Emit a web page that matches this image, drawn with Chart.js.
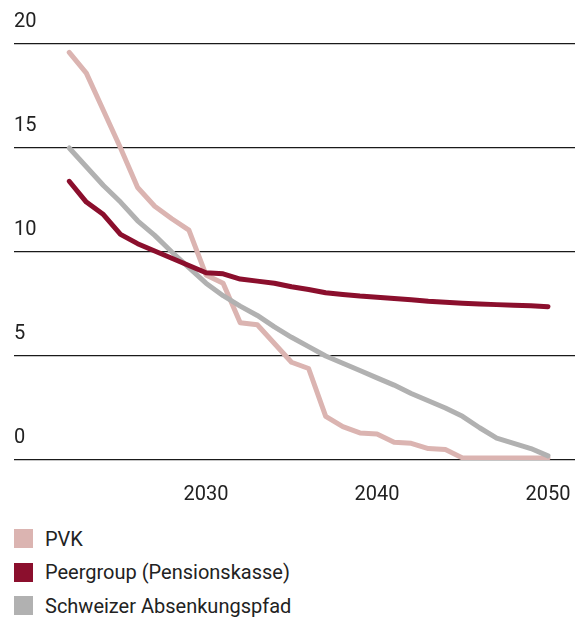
<!DOCTYPE html>
<html>
<head>
<meta charset="utf-8">
<script src="https://cdn.jsdelivr.net/npm/chart.js@4"></script>
<style>
  html, body { margin: 0; padding: 0; background: #fff; }
  #wrap { position: relative; width: 584px; height: 620px; }
  #chart { position: absolute; left: 0; top: 0; }
  #legend { position: absolute; left: 14px; top: 522px; font-family: Roboto, sans-serif; font-size: 20px; color: #222; }
  .item { display: flex; align-items: center; height: 33.5px; }
  .box { width: 19px; height: 19px; margin-right: 12px; }
</style>
</head>
<body>
<div id="wrap">
  <canvas id="chart" width="584" height="520"></canvas>
  <div id="legend"></div>
</div>
<script>
// data
var years = [2022, 2023, 2024, 2025, 2026, 2027, 2028, 2029, 2030, 2031, 2032, 2033, 2034, 2035, 2036,
             2037, 2038, 2039, 2040, 2041, 2042, 2043, 2044, 2045, 2046, 2047, 2048, 2049, 2050];
var pvk = [19.6, 18.6, 16.8, 15.0, 13.1, 12.2, 11.6, 11.05, 8.9, 8.5, 6.6, 6.5, 5.6, 4.7, 4.4,
           2.1, 1.6, 1.3, 1.25, 0.85, 0.8, 0.55, 0.5, 0.1, 0.1, 0.1, 0.1, 0.1, 0.1];
var peergroup = [13.4, 12.4, 11.8, 10.85, 10.4, 10.05, 9.7, 9.35, 9.0, 8.95, 8.7, 8.6, 8.5, 8.33, 8.2,
                 8.04, 7.96, 7.88, 7.82, 7.76, 7.7, 7.63, 7.58, 7.54, 7.5, 7.47, 7.44, 7.41, 7.37];
var absenkungspfad = [15.0, 14.1, 13.2, 12.4, 11.5, 10.8, 10.0, 9.25, 8.5, 7.9, 7.4, 6.95, 6.4, 5.9, 5.45,
                      5.0, 4.65, 4.3, 3.95, 3.6, 3.2, 2.85, 2.5, 2.1, 1.55, 1.05, 0.8, 0.55, 0.2];
var xTicks = [2030, 2040, 2050];
var yTicks = [0, 5, 10, 15, 20];

function points(values) {
    return years.map(function (y, i) { return { x: y, y: values[i] }; });
}

function line(label, values, color, order) {
    return {
        label: label,
        data: points(values),
        borderColor: color,
        backgroundColor: color,
        borderWidth: 5,
        pointRadius: 0,
        tension: 0,
        borderCapStyle: 'round',
        borderJoinStyle: 'round',
        order: order
    };
}

var font = { family: 'Roboto, sans-serif', size: 20 };

var ctx = document.getElementById('chart');
var myChart = new Chart(ctx, {
    type: 'line',
    data: {
        datasets: [
            line('PVK', pvk, '#dbb4b1', 3),
            line('Peergroup (Pensionskasse)', peergroup, '#8b0f2d', 1),
            line('Schweizer Absenkungspfad', absenkungspfad, '#b1b1b1', 2)
        ]
    },
    options: {
        responsive: false,
        animation: false,
        layout: { padding: { left: 14, right: 9, top: 44, bottom: 0 } },
        plugins: { legend: { display: false }, tooltip: { enabled: false } },
        scales: {
            x: {
                type: 'linear',
                min: 2018.77,
                max: 2051.58,
                grid: { display: false },
                border: { display: false },
                afterBuildTicks: function (scale) {
                    scale.ticks = xTicks.map(function (v) { return { value: v }; });
                },
                afterFit: function (scale) {
                    scale.height = 60;
                    scale.paddingLeft = 0;
                    scale.paddingRight = 0;
                },
                ticks: {
                    color: '#222', font: font, padding: 15, maxRotation: 0,
                    callback: function (v) { return String(v); }
                }
            },
            y: {
                min: 0,
                max: 20,
                grid: { color: '#1a1a1a', lineWidth: 1.3, drawTicks: false },
                border: { display: false },
                afterBuildTicks: function (scale) {
                    scale.ticks = yTicks.map(function (v) { return { value: v }; });
                },
                afterFit: function (scale) { scale.width = 0; },
                ticks: { color: '#222', font: font, mirror: true, padding: 0, labelOffset: -22 }
            }
        }
    }
});

// legend as html, built from the datasets
var legend = document.getElementById('legend');
myChart.data.datasets.forEach(function (ds) {
    var item = document.createElement('div');
    item.className = 'item';
    var box = document.createElement('span');
    box.className = 'box';
    box.style.background = ds.borderColor;
    var text = document.createElement('span');
    text.textContent = ds.label;
    item.appendChild(box);
    item.appendChild(text);
    legend.appendChild(item);
});
</script>
</body>
</html>
